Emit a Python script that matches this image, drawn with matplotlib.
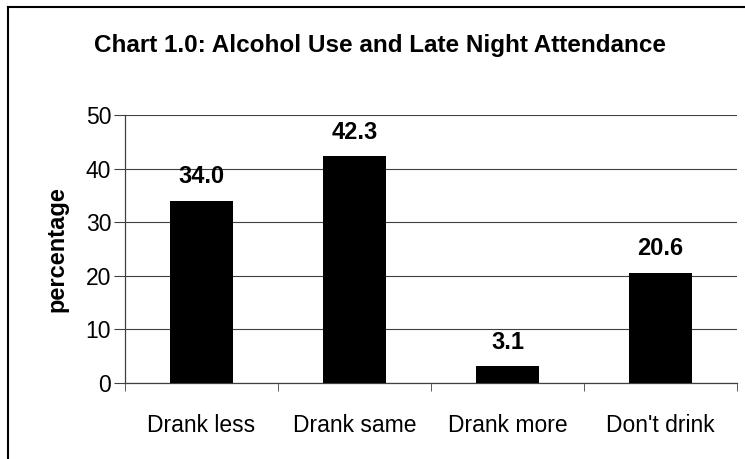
import numpy as np
import matplotlib
matplotlib.use('Agg')
import matplotlib.pyplot as plt
from matplotlib.lines import Line2D

plt.rcParams['font.family'] = ['Liberation Sans', 'DejaVu Sans']

categories = ['Drank less', 'Drank same', 'Drank more', "Don't drink"]
values = [34.0, 42.3, 3.1, 20.6]
yticks = [0, 10, 20, 30, 40, 50]

fig = plt.figure(figsize=(7.45, 4.59), dpi=100)
ax = fig.add_axes([125/745, 76/459, 612/745, 268/459])

x = np.arange(len(categories))
bars = ax.bar(x, values, width=0.41, color='black', zorder=3)

#value labels above bars
for xi, v in zip(x, values):
    ax.annotate(f'{v:.1f}', (xi, v), xytext=(0, 9), textcoords='offset points',
                ha='center', va='bottom', fontsize=17, fontweight='bold')

ax.set_xlim(-0.5, len(categories) - 0.5)
ax.set_ylim(0, 50)
ax.set_yticks(yticks)
ax.yaxis.grid(True, color='#404040', linewidth=0.8, zorder=0)
ax.set_axisbelow(True)

ax.set_xticks(x)
ax.set_xticklabels(categories)
ax.set_xticks(np.arange(len(categories) + 1) - 0.5, minor=True)
ax.tick_params(axis='x', which='major', length=0, pad=22, labelsize=16.5)
ax.tick_params(axis='x', which='minor', length=6, direction='out', color='#404040')
ax.tick_params(axis='y', length=8, direction='out', labelsize=16.5, pad=2, color='#404040')

for s in ['top', 'right']:
    ax.spines[s].set_visible(False)
for s in ['left', 'bottom']:
    ax.spines[s].set_color('#404040')
    ax.spines[s].set_linewidth(0.9)

ax.set_ylabel('percentage', fontsize=17, fontweight='bold', labelpad=12)

fig.text(380/745, 1 - 52/459, 'Chart 1.0: Alcohol Use and Late Night Attendance',
         ha='center', va='baseline', fontsize=17.5, fontweight='bold')

#chart border (cut off at right and bottom)
fig.add_artist(Line2D([8/745, 8/745], [0, 1 - 7/459], color='black', linewidth=1.5, transform=fig.transFigure))
fig.add_artist(Line2D([8/745, 1], [1 - 7/459, 1 - 7/459], color='black', linewidth=1.5, transform=fig.transFigure))

fig.savefig('out.png', dpi=100)
